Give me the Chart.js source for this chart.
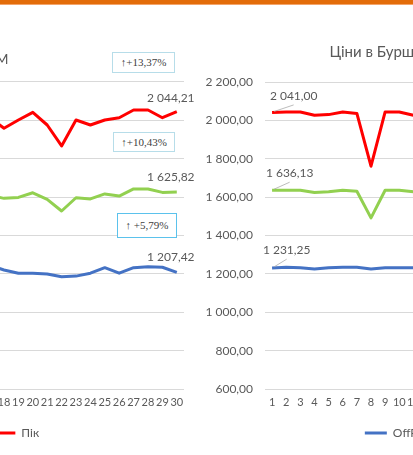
<!DOCTYPE html>
<html lang="uk">
<head>
  <meta charset="UTF-8">
  <title>Ціни</title>
  <script src="https://cdn.jsdelivr.net/npm/chart.js"></script>
  <style>
    html, body { margin: 0; padding: 0; background: #fff; }
    body { width: 413px; height: 455px; position: relative; overflow: hidden; font-family: Lato, sans-serif; }
    .topbar { position: absolute; left: 0; top: 0; width: 413px; height: 4px; background: #e36c0a; border-bottom: 1px solid #f3a46b; z-index: 5; }
    #leftWrap { position: absolute; left: -318px; top: 0; width: 522px; height: 455px; }
    #rightWrap { position: absolute; left: 206px; top: 0; width: 517px; height: 455px; }
    .delta { position: absolute; background: #fff; border: 1px solid #b7dde9; box-sizing: border-box;
             font: 11px "Liberation Serif", serif; color: #404040; text-align: center; z-index: 4; }
  </style>
</head>
<body>
  <div class="topbar"></div>
  <div id="leftWrap"><canvas id="leftChart" width="522" height="455"></canvas></div>
  <div id="rightWrap"><canvas id="rightChart" width="517" height="455"></canvas></div>

  <div class="delta" style="left:112px; top:52px; width:63px; height:21px; line-height:19px;">↑+13,37%</div>
  <div class="delta" style="left:113px; top:132px; width:62px; height:20px; line-height:18px;">↑+10,43%</div>
  <div class="delta" style="left:117px; top:213px; width:60px; height:25px; line-height:22px; border:1.5px solid #5bc2ec;">↑ +5,79%</div>

  <script>
    // days of the month
    const days = ['1','2','3','4','5','6','7','8','9','10','11','12','13','14','15',
                  '16','17','18','19','20','21','22','23','24','25','26','27','28','29','30'];
    const seriesNames = ['OffPeak', 'База', 'Пік'];

    // left chart (only days 17-30 are visible)
    const leftOffPeak = [null, null, null, null, null, null, null, null, null, null, null, null, null, null, null, null,
                         1245, 1220, 1203, 1203, 1199, 1185, 1188, 1203, 1232, 1203, 1232, 1237, 1234, 1207.42];
    const leftBase    = [null, null, null, null, null, null, null, null, null, null, null, null, null, null, null, null,
                         1609, 1593, 1598, 1622, 1588, 1527, 1596, 1590, 1616, 1605, 1642, 1642, 1624, 1625.82];
    const leftPeak    = [null, null, null, null, null, null, null, null, null, null, null, null, null, null, null, null,
                         2014, 1958, 2001, 2041, 1975, 1866, 2001, 1975, 2001, 2013, 2053, 2053, 2013, 2044.21];

    // right chart (only days 1-11 are visible)
    const rightOffPeak = [1231.25, 1234, 1232, 1225, 1232, 1234, 1234, 1225, 1232, 1232, 1232,
                          null, null, null, null, null, null, null, null, null, null, null, null, null, null, null, null, null, null, null];
    const rightBase    = [1636.13, 1636, 1636, 1624, 1628, 1636, 1631, 1492, 1636, 1636, 1628,
                          null, null, null, null, null, null, null, null, null, null, null, null, null, null, null, null, null, null, null];
    const rightPeak    = [2041.00, 2044, 2044, 2027, 2030, 2044, 2036, 1761, 2044, 2044, 2027,
                          null, null, null, null, null, null, null, null, null, null, null, null, null, null, null, null, null, null, null];

    const colors = ['#4472c4', '#92d050', '#ff0000'];
    const gray = '#595959';

    function fmt(v) {
      const parts = v.toFixed(2).split('.');
      return parts[0].replace(/\B(?=(\d{3})+(?!\d))/g, ' ') + ',' + parts[1];
    }

    // value labels next to the points (Excel-style data labels)
    const pointLabels = {
      id: 'pointLabels',
      afterDatasetsDraw(chart, args, opts) {
        const ctx = chart.ctx;
        ctx.save();
        ctx.font = '12px Lato';
        ctx.fillStyle = gray;
        ctx.textAlign = 'center';
        ctx.textBaseline = 'middle';
        chart.data.datasets.forEach((ds, i) => {
          const v = ds.data[opts.index];
          const pt = chart.getDatasetMeta(i).data[opts.index];
          if (v == null || !pt) return;
          const lx = pt.x + opts.offsets[i][0];
          const ly = pt.y + opts.offsets[i][1];
          if (opts.leader) {
            ctx.strokeStyle = '#a6a6a6';
            ctx.lineWidth = 0.75;
            ctx.beginPath();
            ctx.moveTo(pt.x + 2, pt.y - 1);
            ctx.lineTo(lx, ly + 9);
            ctx.stroke();
          }
          ctx.fillText(fmt(v), lx, ly);
        });
        ctx.restore();
      }
    };

    function makeChart(id, title, titleOpts, data, labelOpts, padding, axisWidth, rightGap) {
      return new Chart(document.getElementById(id), {
        type: 'line',
        data: {
          labels: days,
          datasets: data.map((d, i) => ({
            label: seriesNames[i],
            data: d,
            borderColor: colors[i],
            backgroundColor: colors[i],
            borderWidth: 3,
            pointRadius: 0,
            tension: 0,
            borderJoinStyle: 'round',
            spanGaps: false
          }))
        },
        options: {
          responsive: false,
          animation: false,
          layout: { padding: padding },
          scales: {
            x: {
              offset: true,
              grid: { display: false, drawTicks: false },
              border: { display: false },
              ticks: { color: gray, font: { family: 'Lato', size: 11 }, autoSkip: false, maxRotation: 0, padding: 7 },
              afterFit: s => { s.height = 28; }
            },
            y: {
              min: 600,
              max: 2200,
              grid: { color: '#d9d9d9', drawTicks: false },
              border: { display: false },
              ticks: { stepSize: 200, color: gray, font: { family: 'Lato', size: 12 }, padding: 12,
                       callback: v => fmt(v) },
              afterFit: s => { s.width = axisWidth; }
            },
            // empty spacer on the right so title and legend sit where the original has them
            gap: {
              type: 'linear',
              position: 'right',
              display: true,
              grid: { display: false, drawTicks: false },
              border: { display: false },
              ticks: { display: false },
              afterFit: s => { s.width = rightGap; }
            }
          },
          plugins: {
            title: {
              display: true,
              text: title,
              color: gray,
              font: { family: 'Lato', size: titleOpts.size, weight: 'normal' },
              padding: { top: titleOpts.top, bottom: titleOpts.bottom }
            },
            legend: {
              position: 'bottom',
              labels: { usePointStyle: true, pointStyle: 'line', pointStyleWidth: 22,
                        color: gray, font: { family: 'Lato', size: 12 }, padding: 10 }
            },
            tooltip: { enabled: false },
            pointLabels: labelOpts
          }
        },
        plugins: [pointLabels]
      });
    }

    makeChart('leftChart', 'Ціни в ОЕС на ДАМ', { size: 14, top: 51, bottom: 14 },
      [leftOffPeak, leftBase, leftPeak],
      { index: 29, leader: false, offsets: [[-6, -15.4], [-6, -15], [-6, -13.6]] },
      { top: 0, left: 23, right: 20, bottom: 6 }, 47, 0);

    makeChart('rightChart', 'Ціни в Бурштинському енергоострові', { size: 15, top: 43, bottom: 21 },
      [rightOffPeak, rightBase, rightPeak],
      { index: 0, leader: true, offsets: [[14.6, -17.7], [17.6, -17], [21.6, -16.6]] },
      { top: 0, left: 0, right: 10, bottom: 6 }, 59, 24);
  </script>
</body>
</html>
